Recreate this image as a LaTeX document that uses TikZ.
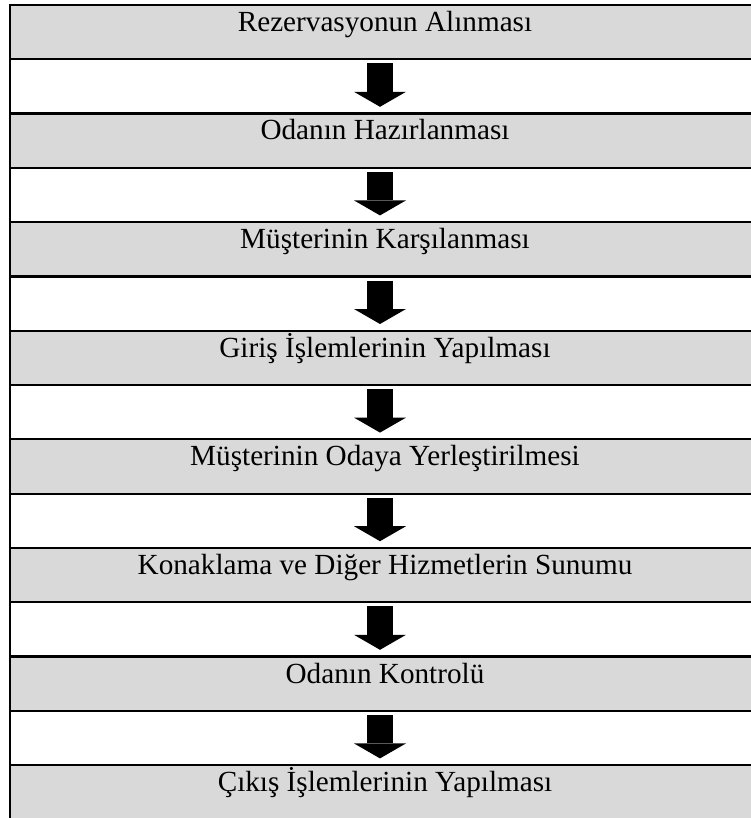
\documentclass[tikz,border=0pt]{standalone}
\usepackage{fontspec}
\setmainfont{Liberation Serif}
\usetikzlibrary{arrows.meta}
\definecolor{rowgray}{RGB}{217,217,217}
\tikzset{
    rule/.style={line width=2.2pt, line cap=rect},
    rowtext/.style={anchor=base, inner sep=0pt, text height=18pt, text depth=6pt, font=\fontsize{29.2}{33}\selectfont},
    flowarrow/.style={line width=26pt, -{Triangle[width=52pt,length=15pt,line width=0pt]}, shorten <=25.8pt, shorten >=15pt}
}
\begin{document}
\begin{tikzpicture}[x=1pt,y=-1pt]
        \useasboundingbox (0,0) rectangle (750,818);
        \foreach \k in {0,...,7}
            \fill [rowgray] (10,{4.9+108.6*\k}) rectangle (760,{59.2+108.6*\k});
        \foreach \j in {0,...,14}
            \draw [rule] (10,{4.9+54.3*\j}) -- (760,{4.9+54.3*\j});
        \draw [rule] (10,4.9) -- (10,830);
        \foreach \txt [count=\k from 0] in {Rezervasyonun Alınması, Odanın Hazırlanması, Müşterinin Karşılanması, Giriş İşlemlerinin Yapılması, Müşterinin Odaya Yerleştirilmesi, Konaklama ve Diğer Hizmetlerin Sunumu, Odanın Kontrolü, Çıkış İşlemlerinin Yapılması}
            \node [rowtext] (s\k) at (385,{31.4+108.6*\k}) {\txt};
        \foreach \k [evaluate=\k as \n using int(\k+1)] in {0,...,6}
            \draw [flowarrow] ([xshift=-5pt]s\k.south) -- ([xshift=-5pt]s\n.north);
    \end{tikzpicture}
\end{document}
